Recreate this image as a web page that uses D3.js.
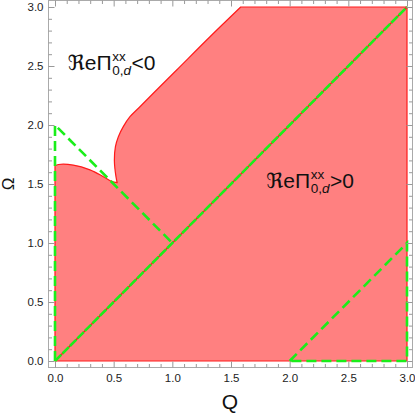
<!DOCTYPE html>
<html><head><meta charset="utf-8">
<script src="https://cdn.jsdelivr.net/npm/d3@7"></script>
<style>html,body{margin:0;padding:0;background:#fff}svg{display:block}</style>
</head><body>
<svg id="c" width="415" height="415"></svg>
<script>
// ---- data ----
const qMajorTicks = [0, 0.5, 1.0, 1.5, 2.0, 2.5, 3.0];
const wMajorTicks = [0, 0.5, 1.0, 1.5, 2.0, 2.5, 3.0];
const minorTicks = [0.1,0.2,0.3,0.4,0.6,0.7,0.8,0.9,1.1,1.2,1.3,1.4,1.6,1.7,1.8,1.9,2.1,2.2,2.3,2.4,2.6,2.7,2.8,2.9];
// boundary of Re Pi > 0 region (Q, Omega)
const leftCurve = [[0,1.655],[0.03,1.665],[0.156,1.66],[0.298,1.62],[0.412,1.562],[0.483,1.522],[0.53,1.512]];
const upperCurve = [[0.53,1.512],[0.52,1.56],[0.506,1.70],[0.515,1.816],[0.540,1.901],[0.582,1.986],[0.639,2.070],[0.724,2.155],[0.838,2.269],[1.037,2.466],[1.321,2.748],[1.583,3.0]];
const regionCorners = [[3,3],[3,0],[0,0]];
const diagonal = [[0,0],[3,3]];
const greenTriangleA = [[0,0],[0,2],[1,1]];
const greenTriangleB = [[2,0],[3,1],[3,0],[2,0]];
const labels = [
  {sign:"<0", q:0.108, w:2.466},
  {sign:">0", q:1.80, w:1.466}
];

// ---- chart ----
const svg = d3.select("#c");
const x = d3.scaleLinear().domain([0,3]).range([55,407]);
const y = d3.scaleLinear().domain([0,3]).range([361,7]);
const F = "'Liberation Sans', Arial, 'DejaVu Sans', sans-serif";

const lin = d3.line().x(d=>x(d[0])).y(d=>y(d[1]));
const smooth = d3.line().x(d=>x(d[0])).y(d=>y(d[1])).curve(d3.curveCatmullRom.alpha(0.5));

// region
const p1 = lin([[0,0], leftCurve[0]]);
const p2 = smooth(leftCurve).replace(/^M/,"L");
const p3 = smooth(upperCurve).replace(/^M/,"L");
const p4 = lin(regionCorners).replace(/^M/,"L") + "Z";
svg.append("path").attr("d", p1+p2+p3+p4)
  .attr("fill","#ff8080").attr("stroke","#ff1a1a").attr("stroke-width",1.2)
  .attr("stroke-linejoin","round");

// diagonal red line
svg.append("path").attr("d", lin(diagonal)).attr("stroke","#ff1a1a").attr("stroke-width",1.5).attr("fill","none");

// green dashed contours
const green = "#1aee1a";
svg.append("path").attr("d", lin(greenTriangleA)).attr("fill","none")
  .attr("stroke",green).attr("stroke-width",2.6).attr("stroke-dasharray","10,5");
svg.append("path").attr("d", lin(diagonal)).attr("fill","none")
  .attr("stroke",green).attr("stroke-width",2.6).attr("stroke-dasharray","9,1.6");
svg.append("path").attr("d", lin(greenTriangleB)).attr("fill","none")
  .attr("stroke",green).attr("stroke-width",2.6).attr("stroke-dasharray","10,5");

// frame
const fx0=48.5, fx1=412.5, fy0=0.5, fy1=367.5;
svg.append("rect").attr("x",fx0).attr("y",fy0).attr("width",fx1-fx0).attr("height",fy1-fy0)
  .attr("fill","none").attr("stroke","#aaa").attr("stroke-width",1);

function styleAxis(g){
  g.select(".domain").remove();
  g.selectAll(".tick line").attr("stroke","#999");
  g.selectAll(".tick text").attr("fill","#222").style("font-family",F).style("font-size","11.5px");
}
const fmt = d3.format(".1f");
svg.append("g").attr("transform",`translate(0,${fy1})`)
  .call(d3.axisBottom(x).tickValues(qMajorTicks).tickFormat(fmt).tickSize(-6).tickPadding(6)).call(styleAxis);
svg.append("g").attr("transform",`translate(0,${fy1})`)
  .call(d3.axisBottom(x).tickValues(minorTicks).tickFormat("").tickSize(-3.5)).call(styleAxis);
svg.append("g").attr("transform",`translate(0,${fy0})`)
  .call(d3.axisTop(x).tickValues(qMajorTicks).tickFormat("").tickSize(-6)).call(styleAxis);
svg.append("g").attr("transform",`translate(0,${fy0})`)
  .call(d3.axisTop(x).tickValues(minorTicks).tickFormat("").tickSize(-3.5)).call(styleAxis);
svg.append("g").attr("transform",`translate(${fx0},0)`)
  .call(d3.axisLeft(y).tickValues(wMajorTicks).tickFormat(fmt).tickSize(-6).tickPadding(5)).call(styleAxis);
svg.append("g").attr("transform",`translate(${fx0},0)`)
  .call(d3.axisLeft(y).tickValues(minorTicks).tickFormat("").tickSize(-3.5)).call(styleAxis);
svg.append("g").attr("transform",`translate(${fx1},0)`)
  .call(d3.axisRight(y).tickValues(wMajorTicks).tickFormat("").tickSize(-6)).call(styleAxis);
svg.append("g").attr("transform",`translate(${fx1},0)`)
  .call(d3.axisRight(y).tickValues(minorTicks).tickFormat("").tickSize(-3.5)).call(styleAxis);

// axis labels
svg.append("text").attr("x",230).attr("y",409).attr("text-anchor","middle")
  .style("font-family",F).style("font-size","21px").attr("fill","#111").text("Q");
svg.append("text").attr("transform","translate(14,184) rotate(-90)").attr("text-anchor","middle")
  .style("font-family",F).style("font-size","17px").attr("fill","#111").text("Ω");

// region labels
labels.forEach(l=>{
  const bx = x(l.q), by = y(l.w);
  const main = svg.append("text").attr("x",bx).attr("y",by)
    .style("font-family",F).style("font-size","21px").attr("fill","#111").text("ℜeΠ");
  const w1 = main.node().getComputedTextLength();
  const sx = bx + w1 + 0.5;
  const sup = svg.append("text").attr("x",sx).attr("y",by-9.5)
    .style("font-family",F).style("font-size","13.5px").attr("fill","#111").text("xx");
  const sub = svg.append("text").attr("x",sx).attr("y",by+5)
    .style("font-family",F).style("font-size","13.5px").attr("fill","#111");
  sub.append("tspan").text("0,");
  sub.append("tspan").style("font-style","italic").text("d");
  const w2 = Math.max(sup.node().getComputedTextLength(), sub.node().getComputedTextLength());
  svg.append("text").attr("x",sx + w2 + 0.5).attr("y",by)
    .style("font-family",F).style("font-size","21px").attr("fill","#111").text(l.sign);
});
</script>
</body></html>
